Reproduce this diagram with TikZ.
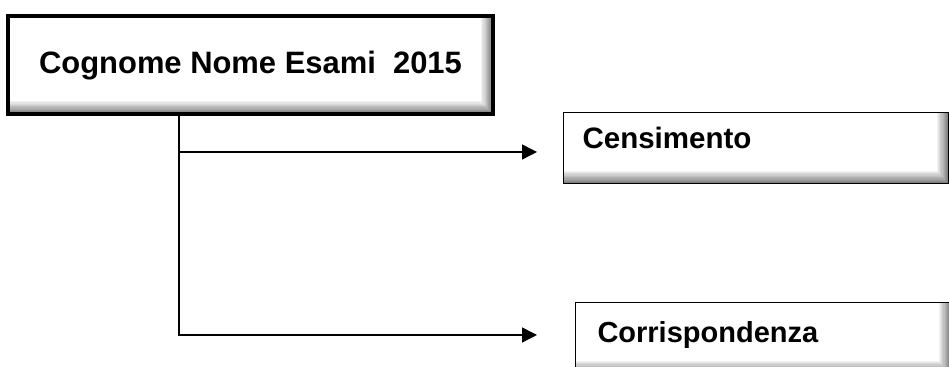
\documentclass[tikz,border=0pt]{standalone}
\usepackage{fontspec}
\setmainfont{Liberation Sans}
\usetikzlibrary{positioning,arrows.meta}

\begin{document}
\begin{tikzpicture}[
	box/.style={draw, inner ysep=0, align=left, path picture={
		% soft inner shadow, right and bottom
		\foreach \i [evaluate=\i as \g using int(\i*5)] in {1,...,10} {
			\fill[black!\g] ([xshift={(\i-11)*0.024cm}]path picture bounding box.north east) rectangle (path picture bounding box.south east);
			\fill[black!\g] ([yshift={(11-\i)*0.026cm}]path picture bounding box.south west) rectangle (path picture bounding box.south east);
		}
	}},
	link/.style={line width=0.8pt},
	arr/.style={link, -{Triangle[length=0.3cm,width=0.3cm]}}
]
	\useasboundingbox (0,0) rectangle (18.98,7.34);

	\node[box, line width=1.8pt, font=\bfseries\fontsize{17.6}{20}\selectfont,
		minimum width=9.70cm, text height=1.16cm, text depth=0.80cm, inner xsep=0, align=center]
		(title) at (5.01,6.04) {Cognome Nome Esami\ \ 2015};
	\node[box, line width=0.6pt, font=\bfseries\fontsize{16.8}{18}\selectfont,
		anchor=north west, inner xsep=0.38cm, text width=6.94cm, text height=0.72cm, text depth=0.70cm]
		(cens) at (11.26,5.10) {Censimento};
	\node[box, line width=0.6pt, font=\bfseries\fontsize{16.5}{18}\selectfont,
		anchor=north west, inner xsep=0.44cm, text width=6.62cm, text height=0.80cm, text depth=0.62cm]
		(corr) at (11.50,1.30) {Corrispondenza};

	\coordinate (fork) at (3.58,4.30);
	\coordinate (tipA) at (10.74,4.30);
	\coordinate (tipB) at (10.74,0.64);
	\draw[arr] (title.south -| fork) |- (tipB);
	\draw[arr] (fork) -- (tipA);
\end{tikzpicture}
\end{document}
